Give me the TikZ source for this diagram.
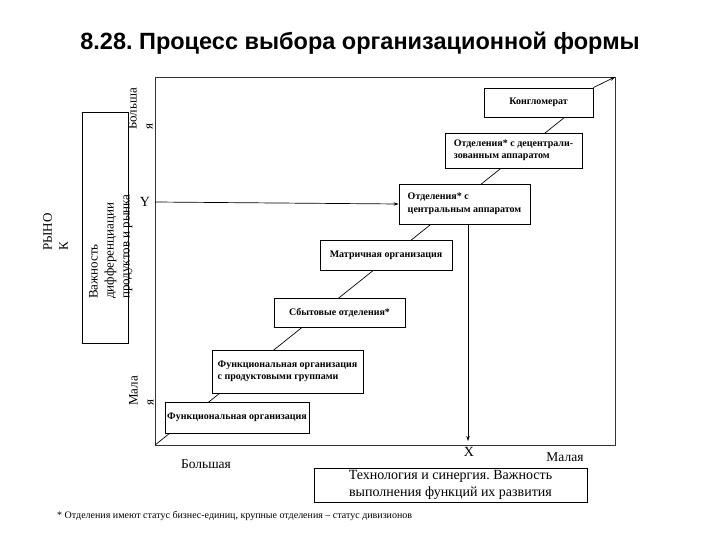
\documentclass[tikz,border=0pt]{standalone}
\usepackage{fontspec}
\setmainfont{Liberation Serif}
\newfontfamily\titlefont{Liberation Sans}
\usetikzlibrary{arrows.meta}
\frenchspacing
\tikzset{
  boxnode/.style={draw=black, fill=white, line width=0.8pt, inner sep=2pt, align=left,
    font=\fontsize{10}{12.5}\selectfont\bfseries},
  rottext/.style={rotate=90, anchor=north west, align=left, inner sep=0pt,
    font=\fontsize{13}{16}\selectfont},
  plaintext/.style={inner sep=0pt, font=\fontsize{13.5}{16}\selectfont},
  conn/.style={draw=black, line width=0.7pt},
  arr/.style={conn, -{Stealth[length=5pt,width=3.5pt]}},
  frameline/.style={draw=black!80, line width=0.8pt}
}
\begin{document}
\begin{tikzpicture}[x=1pt,y=-1pt]
\useasboundingbox (0,0) rectangle (720,540);
% title
\node[font=\titlefont\fontsize{23.5}{28}\selectfont\bfseries] (title) at (360,43) {8.28. Процесс выбора организационной формы};
% frame
\coordinate (fsw) at (155,445);
\coordinate (fne) at (615,77);
\draw[frameline] (155,77) rectangle (615,445);
% diagonal
\coordinate (dtop) at (565,117);
\draw[conn] (fsw) -- (dtop);
% boxes
\node[boxnode, minimum width=109pt, minimum height=29pt] (k) at (538.5,102.5) {Конгломерат};
\node[boxnode, minimum width=137pt, minimum height=35pt] (dec) at (513.5,150.5) {Отделения* с децентрали-\\зованным аппаратом};
\node[boxnode, minimum width=131pt, minimum height=40pt] (cen) at (464.5,204) {Отделения* с\\центральным аппаратом};
\node[boxnode, minimum width=132pt, minimum height=30pt] (mat) at (386,255) {Матричная организация};
\node[boxnode, minimum width=131pt, minimum height=29pt] (sb) at (339.5,312.5) {Сбытовые отделения*};
\node[boxnode, minimum width=151pt, minimum height=43pt] (fp) at (287.5,371.5) {Функциональная организация\\с продуктовыми группами};
\node[boxnode, minimum width=144pt, minimum height=31pt] (f) at (237,417.5) {Функциональная организация};
\draw[arr] (k.north east) -- (fne);
% Y arrow
\node[plaintext, font=\fontsize{14}{16}\selectfont] (ylab) at (145,202) {Y};
\coordinate (ystart) at (155,202);
\draw[arr] (ystart) -- (cen.west);
% X arrow
\coordinate (xend) at (468,441);
\draw[arr] (cen.south -| xend) -- (xend);
\node[plaintext, font=\fontsize{14}{16}\selectfont] (xlab) at (469,452) {X};
% left box
\draw[draw=black, line width=0.8pt] (82,112) rectangle (128,343);
\node[rottext] (imp) at (89,299) {Важность\\дифференциации\\продуктов и рынка};
\node[rottext] (market) at (43,251) {РЫНО\\К};
\node[rottext] (big) at (128,130) {Больша\\я};
\node[rottext] (small) at (129,406) {Мала\\я};
% bottom labels
\node[plaintext] (bigx) at (206,464) {Большая};
\node[plaintext] (smallx) at (565,457) {Малая};
\node[draw=black, line width=0.8pt, minimum width=273pt, minimum height=34pt, align=center,
  inner sep=1pt, font=\fontsize{14}{17.5}\selectfont] (tech) at (450.5,485) {Технология и синергия. Важность\\выполнения функций их развития};
% footnote
\node[anchor=west, inner sep=0pt, font=\fontsize{10}{12}\selectfont] (note) at (57,516) {* Отделения имеют статус бизнес-единиц, крупные отделения – статус дивизионов};
\end{tikzpicture}
\end{document}
